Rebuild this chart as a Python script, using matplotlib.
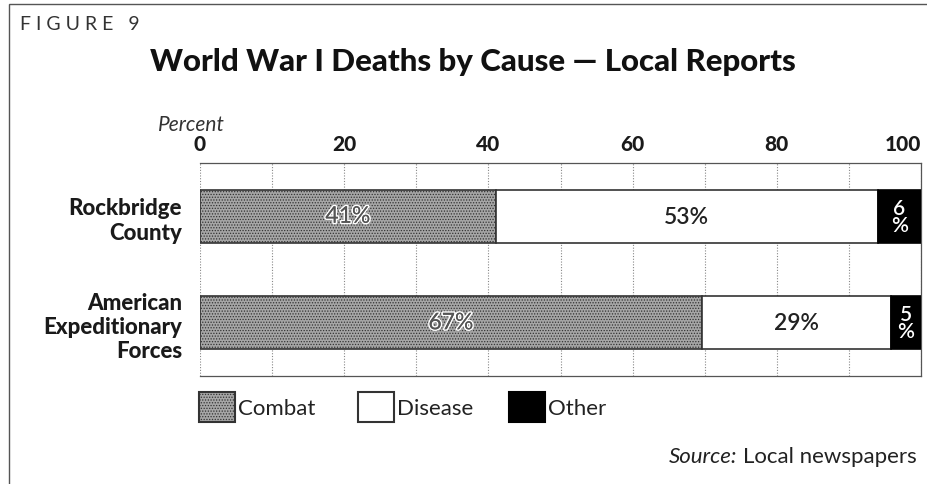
import matplotlib
matplotlib.use("Agg")
import matplotlib.pyplot as plt
import matplotlib.patheffects as pe
from matplotlib.patches import Rectangle

plt.rcParams['font.family'] = ['Lato', 'DejaVu Sans']
plt.rcParams['hatch.color'] = '#7a7a7a'
plt.rcParams['hatch.linewidth'] = 0.6

# ---- data ----
categories = ["Rockbridge\nCounty", "American\nExpeditionary\nForces"]
causes = ["Combat", "Disease", "Other"]
combat = [41, 69.6]      # segment widths as drawn
disease = [53, 26.2]
other = [6, 4.2]
combat_labels = ["41%", "67%"]
disease_labels = ["53%", "29%"]
other_labels = ["6\n%", "5\n%"]
xticks = [0, 20, 40, 60, 80, 100]

fig = plt.figure(figsize=(9.27, 4.85), dpi=100)
ax = fig.add_axes([200/927, 1-377/485, 721/927, 213/485])

ypos = list(range(len(categories)))
h = 0.5
ax.barh(ypos, combat, height=h, color='#a6a6a6', edgecolor='#333333', linewidth=1.2,
        hatch='......', zorder=3)
ax.barh(ypos, disease, left=combat, height=h, color='white', edgecolor='#333333',
        linewidth=1.2, zorder=3)
left3 = [c + d for c, d in zip(combat, disease)]
ax.barh(ypos, other, left=left3, height=h, color='black', edgecolor='black',
        linewidth=1.2, zorder=3)

for i in ypos:
    ax.text(combat[i] / 2, i, combat_labels[i], ha='center', va='center', fontsize=16.5,
            color='#555555', zorder=5,
            path_effects=[pe.withStroke(linewidth=2.2, foreground='white'),
                          pe.Normal()])
    ax.text(combat[i] + disease[i] / 2, i, disease_labels[i], ha='center', va='center',
            fontsize=16.5, color='#222222', fontweight='semibold', zorder=5)
    ax.text(left3[i] + other[i] / 2, i, other_labels[i], ha='center', va='center',
            fontsize=15, color='white', fontweight='semibold', zorder=5, linespacing=0.8)

ax.set_xlim(0, 100)
ax.set_ylim(1.5, -0.5)
ax.set_xticks(xticks)
ax.set_xticks(range(0, 101, 10), minor=True)
ax.xaxis.tick_top()
ax.tick_params(axis='x', which='both', length=0, pad=7)
tlabels = ax.get_xticklabels()
for lbl in tlabels:
    lbl.set_fontweight('black')
    lbl.set_fontsize(15)
    lbl.set_color('#1a1a1a')
tlabels[-1].set_horizontalalignment('right')
ax.grid(axis='x', which='both', linestyle=(0, (1, 1.5)), color='#888888', linewidth=0.8,
        zorder=1)
ax.set_yticks(ypos)
ax.set_yticklabels(categories, fontsize=16, fontweight='black', color='#1a1a1a',
                   linespacing=1.2)
ax.tick_params(axis='y', length=0, pad=13)
ax.spines['left'].set_visible(False)
for s in ['top', 'right', 'bottom']:
    ax.spines[s].set_color('#555555')
    ax.spines[s].set_linewidth(0.9)

fig.text(191/927, 1 - 125/485, "Percent", ha='center', va='center',
         fontsize=15, fontstyle='italic', color='#333333')

# frame around figure
fig.patches.append(Rectangle((9/927, -0.1), 1.2, 1 - 5/485 + 0.1, transform=fig.transFigure,
                             fill=False, edgecolor='#555555', linewidth=1.0))

fig.text(20/927, 1 - 25/485, "F I G U R E   9", fontsize=14, color='#333333',
         ha='left', va='center')
fig.text(473/927, 1 - 62/485, "World War I Deaths by Cause \u2014 Local Reports",
         fontsize=22.5, fontweight='black', color='#111111', ha='center', va='center')

# legend
colors = ['#a6a6a6', 'white', 'black']
edges = ['#333333', '#333333', 'black']
hatches = ['......', None, None]
box_x = [199, 358, 509]
for name, c, e, ht, bx in zip(causes, colors, edges, hatches, box_x):
    r = Rectangle((bx/927, 1 - 423/485), 36/927, 30/485, transform=fig.transFigure,
                  facecolor=c, edgecolor=e, linewidth=1.5, hatch=ht)
    fig.patches.append(r)
    fig.text((bx + 39)/927, 1 - 409/485, name, fontsize=16, color='#222222',
             ha='left', va='center')

t2 = fig.text(917/927, 1 - 457/485, "Local newspapers", fontsize=16, color='#222222',
              ha='right', va='center')
renderer = fig.canvas.get_renderer()
bb = t2.get_window_extent(renderer=renderer)
fig.text((bb.x0 - 6) / fig.bbox.width, 1 - 457/485, "Source:", fontsize=16, fontstyle='italic',
         color='#222222', ha='right', va='center')

fig.savefig("out.png", dpi=100)
